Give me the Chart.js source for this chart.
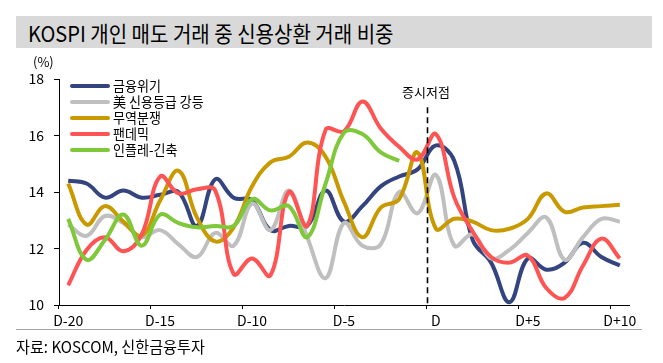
<!DOCTYPE html>
<html>
<head>
<meta charset="utf-8">
<script src="https://cdn.jsdelivr.net/npm/chart.js@4/dist/chart.umd.min.js"></script>
<style>
  body { margin: 0; background: #fff; font-family: "Noto Sans CJK KR", "Noto Sans", sans-serif; color: #000; }
  #wrap { position: relative; width: 663px; height: 363px; overflow: hidden; }
  #title { position: absolute; left: 16px; top: 16px; width: 636px; height: 32px; background: #D9D9D9; }
  #title span { position: absolute; left: 12px; top: 0; line-height: 32px; font-size: 22px; white-space: nowrap; transform: scaleX(0.91); transform-origin: left center; }
  #unit { position: absolute; left: 33px; top: 52px; font-size: 13px; }
  #legend { position: absolute; left: 70px; top: 78px; }
  .item { height: 16px; position: relative; }
  .item i { position: absolute; left: 0; top: 6px; width: 40px; height: 4px; border-radius: 2px; }
  .item span { position: absolute; left: 43px; top: -2px; font-size: 14px; line-height: 18px; white-space: nowrap; transform: scaleX(0.93); transform-origin: left center; }
  #low { position: absolute; left: 396px; top: 82px; width: 60px; text-align: center; font-size: 13px; }
  #sep { position: absolute; left: 16px; top: 329px; width: 626px; height: 1px; background: #A6A6A6; }
  #src { position: absolute; left: 16px; top: 334px; font-size: 16px; white-space: nowrap; transform: scaleX(0.945); transform-origin: left center; }
</style>
</head>
<body>
<div id="wrap">
  <canvas id="myChart" width="663" height="363"></canvas>
  <div id="title"><span>KOSPI 개인 매도 거래 중 신용상환 거래 비중</span></div>
  <div id="unit">(%)</div>
  <div id="legend"></div>
  <div id="low">증시저점</div>
  <div id="sep"></div>
  <div id="src">자료: KOSCOM, 신한금융투자</div>
</div>
<script>
// categories: D-20 ... D+10
const categories = ['D-20','D-19','D-18','D-17','D-16','D-15','D-14','D-13','D-12','D-11',
                    'D-10','D-9','D-8','D-7','D-6','D-5','D-4','D-3','D-2','D-1',
                    'D','D+1','D+2','D+3','D+4','D+5','D+6','D+7','D+8','D+9','D+10'];

// values (%)
const financialCrisis = [14.4, 14.3, 13.8, 14.05, 13.8, 13.9, 14.0, 12.8, 14.45, 13.8,
                         13.7, 12.65, 12.8, 12.8, 14.05, 12.95, 13.5, 14.2, 14.55, 14.8,
                         15.65, 15.1, 12.3, 11.5, 10.1, 11.65, 11.25, 11.5, 12.2, 11.7, 11.4];
const usDowngrade = [12.85, 12.45, 13.15, 12.9, 12.4, 12.65, 12.15, 11.7, 12.55, 12.1,
                     13.6, 12.65, 14.05, 12.4, 10.95, 12.9, 12.1, 12.15, 14.0, 13.25,
                     14.6, 12.1, 12.5, 11.65, 11.95, 12.55, 13.1, 11.6, 12.4, 13.05, 12.95];
const tradeWar = [14.3, 12.85, 13.5, 12.95, 12.45, 13.7, 14.75, 13.1, 12.25, 12.75,
                  14.2, 15.05, 15.25, 15.75, 15.25, 13.65, 12.4, 13.45, 13.75, 15.4,
                  12.7, 13.05, 12.95, 12.65, 12.7, 13.05, 13.95, 13.3, 13.45, 13.5, 13.55];
const pandemic = [10.7, 11.95, 12.4, 11.9, 12.5, 14.55, 13.95, 14.1, 14.05, 11.1,
                  11.65, 11.05, 14.0, 12.8, 16.2, 16.15, 17.2, 16.25, 15.6, 15.15,
                  16.05, 13.8, 12.6, 11.7, 11.5, 11.75, 10.6, 10.25, 11.4, 12.35, 11.65];
const inflation = [13.05, 11.6, 12.3, 13.2, 12.1, 13.2, 12.9, 12.75, 12.8, 12.8,
                   13.75, 13.35, 13.5, 12.4, 14.3, 16.1, 16.05, 15.4, 15.1];

const seriesNames = ['금융위기', '美 신용등급 강등', '무역분쟁', '팬데믹', '인플레-긴축'];
const seriesColors = ['#33447F', '#BFBFBF', '#C99A00', '#FF5454', '#7FC83A'];
const seriesData = [financialCrisis, usDowngrade, tradeWar, pandemic, inflation];

// legend (html)
const legend = document.getElementById('legend');
seriesNames.forEach(function (name, i) {
    const row = document.createElement('div');
    row.className = 'item';
    row.innerHTML = '<i style="background:' + seriesColors[i] + '"></i><span>' + name + '</span>';
    legend.appendChild(row);
});

// dashed line at the market low
const lowLine = {
    id: 'lowLine',
    afterDatasetsDraw(chart) {
        const xs = chart.scales.x, ys = chart.scales.y;
        const x = Math.round((xs.getPixelForValue(19) + xs.getPixelForValue(20)) / 2) + 0.5;
        const ctx = chart.ctx;
        ctx.save();
        ctx.strokeStyle = '#000';
        ctx.lineWidth = 1.6;
        ctx.setLineDash([6, 4]);
        ctx.beginPath();
        ctx.moveTo(x, ys.getPixelForValue(17));
        ctx.lineTo(x, chart.chartArea.bottom);
        ctx.stroke();
        ctx.restore();
    }
};

const data = {
    labels: categories,
    datasets: seriesData.map(function (values, i) {
        return {
            label: seriesNames[i],
            data: values,
            borderColor: seriesColors[i],
            backgroundColor: seriesColors[i],
            borderWidth: 4,
            pointRadius: 0,
            tension: 0.4,
            fill: false,
            order: 4 - i // later series drawn on top
        };
    })
};

const tickFont = { family: '"Noto Sans CJK KR", "Noto Sans", sans-serif', size: 14 };

const config = {
    type: 'line',
    data: data,
    options: {
        responsive: false,
        animation: false,
        layout: { padding: { left: 19, right: 34, top: 79, bottom: 33 } },
        plugins: { legend: { display: false }, tooltip: { enabled: false } },
        scales: {
            x: {
                offset: true,
                afterFit: function (s) { s.height = 25; },
                border: { color: '#000', width: 1 },
                grid: {
                    offset: true,
                    drawOnChartArea: false,
                    tickLength: 4,
                    color: function (ctx) { return ctx.index % 5 === 0 && ctx.index < 31 ? '#000' : 'rgba(0,0,0,0)'; }
                },
                ticks: {
                    autoSkip: false,
                    maxRotation: 0,
                    padding: 3,
                    color: '#000',
                    font: tickFont,
                    callback: function (v, i) { return i % 5 === 0 ? categories[i] : ''; }
                }
            },
            y: {
                min: 10,
                max: 18,
                afterFit: function (s) { s.width = 40; },
                border: { color: '#000', width: 1 },
                grid: { drawOnChartArea: false, tickLength: 5, color: '#000' },
                ticks: { stepSize: 2, padding: 10, color: '#000', font: tickFont }
            }
        }
    },
    plugins: [lowLine]
};

var myChart = new Chart(document.getElementById('myChart'), config);
</script>
</body>
</html>
